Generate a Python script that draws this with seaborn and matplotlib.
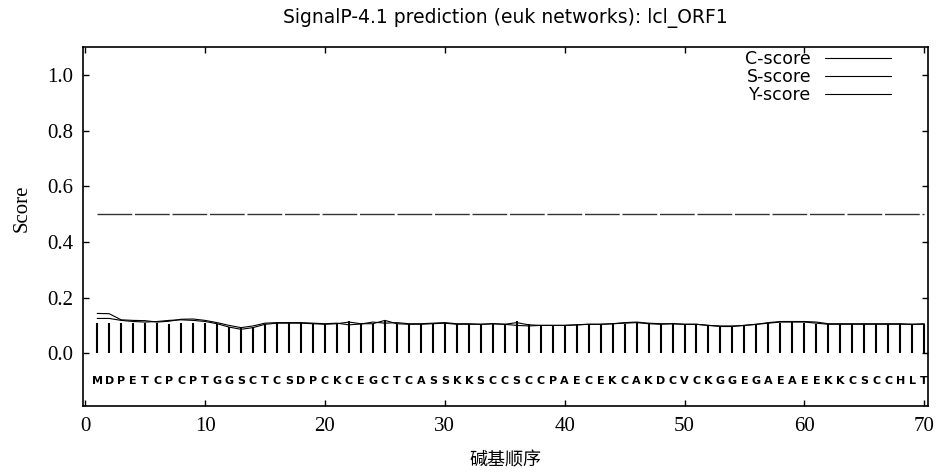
import numpy as np
import pandas as pd
import matplotlib
matplotlib.use("Agg")
import matplotlib.pyplot as plt
import seaborn as sns
from matplotlib.lines import Line2D

# ---- data ----
sequence = list("MDPETCPCPTGGSCTCSDPCKCEGCTCASSKKSCCSCCPAECEKCAKDCVCKGGEGAEAEEKKCSCCHLT")
positions = list(range(1, 71))

c_score = [0.108, 0.108, 0.108, 0.110, 0.108, 0.108, 0.106, 0.108, 0.110, 0.108,
           0.104, 0.094, 0.090, 0.096, 0.106, 0.108, 0.108, 0.108, 0.106, 0.104,
           0.106, 0.114, 0.106, 0.106, 0.120, 0.106, 0.104, 0.104, 0.106, 0.108,
           0.104, 0.104, 0.104, 0.106, 0.104, 0.114, 0.104, 0.100, 0.100, 0.100,
           0.104, 0.104, 0.104, 0.106, 0.106, 0.108, 0.106, 0.104, 0.106, 0.104,
           0.104, 0.100, 0.098, 0.098, 0.100, 0.104, 0.108, 0.110, 0.112, 0.110,
           0.106, 0.104, 0.104, 0.104, 0.104, 0.104, 0.104, 0.104, 0.104, 0.104]

s_score = [0.143, 0.142, 0.120, 0.118, 0.117, 0.112, 0.115, 0.122, 0.123, 0.118,
           0.110, 0.100, 0.092, 0.098, 0.108, 0.110, 0.110, 0.110, 0.108, 0.106,
           0.108, 0.102, 0.105, 0.112, 0.108, 0.110, 0.106, 0.106, 0.108, 0.110,
           0.106, 0.106, 0.104, 0.106, 0.104, 0.100, 0.098, 0.100, 0.100, 0.100,
           0.102, 0.104, 0.104, 0.106, 0.110, 0.112, 0.108, 0.106, 0.106, 0.104,
           0.104, 0.100, 0.096, 0.096, 0.100, 0.104, 0.110, 0.114, 0.114, 0.114,
           0.112, 0.106, 0.106, 0.106, 0.106, 0.106, 0.106, 0.106, 0.104, 0.106]

y_score = [0.125, 0.125, 0.118, 0.114, 0.112, 0.114, 0.118, 0.120, 0.118, 0.114,
           0.106, 0.094, 0.086, 0.092, 0.104, 0.108, 0.108, 0.108, 0.106, 0.104,
           0.106, 0.112, 0.106, 0.106, 0.118, 0.106, 0.104, 0.104, 0.106, 0.108,
           0.104, 0.104, 0.104, 0.106, 0.104, 0.110, 0.102, 0.100, 0.100, 0.100,
           0.102, 0.104, 0.104, 0.106, 0.108, 0.110, 0.106, 0.104, 0.106, 0.104,
           0.104, 0.100, 0.098, 0.098, 0.100, 0.104, 0.108, 0.112, 0.112, 0.112,
           0.108, 0.104, 0.104, 0.104, 0.104, 0.104, 0.104, 0.104, 0.104, 0.104]

cutoff = 0.5
title = "SignalP-4.1 prediction (euk networks): lcl_ORF1"
x_ticks = [0, 10, 20, 30, 40, 50, 60, 70]
y_ticks = [0.0, 0.2, 0.4, 0.6, 0.8, 1.0]

df = pd.DataFrame({"pos": positions, "C": c_score, "S": s_score, "Y": y_score})

sns.set_theme(style="ticks")
plt.rcParams["font.family"] = ["Liberation Serif", "DejaVu Serif"]
plt.rcParams["text.color"] = "black"
plt.rcParams["axes.labelcolor"] = "black"

fig = plt.figure(figsize=(9.41, 4.75), dpi=100)
ax = fig.add_axes([0.088, 0.145, 0.898, 0.756])

# C-score as impulses
ax.vlines(df["pos"], 0, df["C"], color="black", linewidth=1.5)
sns.lineplot(data=df, x="pos", y="S", ax=ax, color="black", linewidth=0.8)
sns.lineplot(data=df, x="pos", y="Y", ax=ax, color="black", linewidth=0.8)

# cutoff line
ax.plot([positions[0], positions[-1]], [cutoff, cutoff], color="#333333",
        linewidth=1.0, dashes=(25, 2))

# residue letters
for p, aa in zip(positions, sequence):
    ax.text(p, -0.1, aa, ha="center", va="center", fontsize=8,
            fontweight="bold", family="DejaVu Sans", color="black")

ax.set_xlim(-0.2, 70.3)
ax.set_ylim(-0.19, 1.1)
ax.set_xticks(x_ticks)
ax.set_yticks(y_ticks)
ax.set_yticklabels([f"{v:.1f}" for v in y_ticks])
ax.tick_params(direction="in", length=4, width=1, top=True, right=True,
               labelsize=15, colors="black")
ax.tick_params(axis="x", pad=8)
ax.tick_params(axis="y", pad=7)
for sp in ax.spines.values():
    sp.set_visible(True)
    sp.set_linewidth(1.2)
    sp.set_color("black")

ax.set_xlabel("碱基顺序", family=["Noto Sans CJK SC", "DejaVu Sans"],
              fontsize=13)
ax.xaxis.set_label_coords(0.5, -0.125)
ax.set_ylabel("Score", fontsize=15)
ax.yaxis.set_label_coords(-0.06, 0.55)
ax.set_title(title, family="DejaVu Sans", fontsize=13.5, pad=17)

handles = [Line2D([], [], color="black", linewidth=0.8) for _ in range(3)]
ax.legend(handles, ["C-score", "S-score", "Y-score"], loc="upper right",
          bbox_to_anchor=(0.975, 1.035), frameon=False, markerfirst=False,
          handlelength=3.8, handletextpad=0.8, labelspacing=0.0,
          prop={"family": "DejaVu Sans", "size": 12.5})

fig.savefig("out.png", dpi=100)
